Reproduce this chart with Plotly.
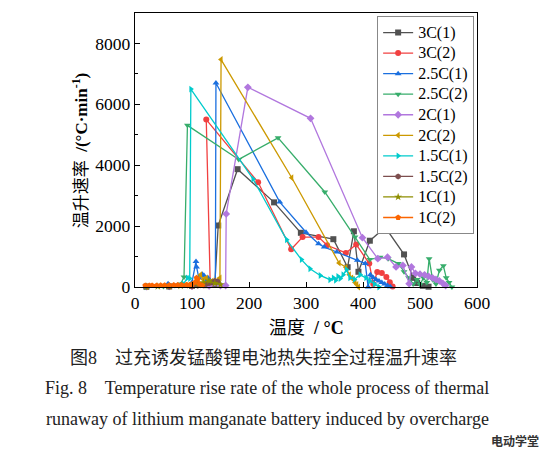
import plotly.graph_objects as go

# ---------------- data ----------------
names = ["3C(1)", "3C(2)", "2.5C(1)", "2.5C(2)", "2C(1)", "2C(2)",
         "1.5C(1)", "1.5C(2)", "1C(1)", "1C(2)"]

x_3c1 = [20, 60, 100, 125, 140, 146, 180, 244, 291, 348, 373, 384, 392, 412, 439, 472, 488, 495, 505, 515]
y_3c1 = [10, 20, 40, 60, 100, 2020, 3870, 2780, 1780, 1570, 650, 1830, 500, 1520, 1960, 1070, 300, 130, 40, 10]

x_3c2 = [20, 60, 100, 120, 132, 125, 216, 274, 294, 322, 337, 370, 388, 411, 418, 425, 433, 441, 447, 452]
y_3c2 = [10, 20, 40, 60, 80, 5500, 3440, 1240, 1640, 1640, 1370, 1120, 1400, 770, 100, 490, 460, 330, 160, 20]

x_25c1 = [20, 45, 58, 70, 90, 100, 107, 108, 112, 118, 121, 125, 128, 133, 141, 142, 254, 300, 322, 332,
          354, 390, 404, 409, 413, 418, 423, 428, 433, 438, 443, 448]
y_25c1 = [10, 30, 110, 40, 60, 150, 840, 660, 300, 420, 380, 200, 300, 150, 150, 6700, 2790, 1800, 1420, 1310,
          1150, 880, 770, 0, 400, 300, 250, 200, 150, 100, 50, 10]

x_25c2 = [20, 50, 70, 80, 86, 92, 182, 251, 333, 386, 412, 430, 444, 462, 472, 480, 488, 495, 500, 506,
          512, 516, 522, 528, 534, 541, 546, 551, 556]
y_25c2 = [10, 20, 50, 100, 330, 5310, 4190, 4900, 3120, 1640, 900, 980, 930, 770, 500, 300, 100, 250, 80, 300,
          150, 930, 250, 100, 550, 700, 300, 150, 0]

x_2c1 = [20, 60, 100, 130, 150, 159, 160, 198, 308, 399, 426, 443, 458, 470, 481, 485, 492, 500, 508, 515,
         522, 528, 534, 540, 545]
y_2c1 = [10, 20, 30, 40, 50, 50, 2400, 6560, 5540, 1620, 930, 980, 660, 710, 110, 660, 450, 420, 400, 350,
         300, 250, 200, 120, 50]

x_2c2 = [20, 60, 90, 100, 110, 115, 120, 125, 130, 135, 140, 147, 149, 151, 275, 358, 370, 376, 380, 383,
         386, 389, 392]
y_2c2 = [10, 30, 60, 100, 200, 400, 250, 300, 150, 200, 200, 250, 300, 7470, 3590, 790, 650, 400, 300, 250,
         150, 80, 0]

x_15c1 = [20, 60, 85, 92, 96, 98, 207, 266, 292, 307, 325, 342, 348, 352, 356, 360, 365, 371, 377, 385,
          395, 405, 412, 420, 428]
y_15c1 = [10, 20, 100, 300, 280, 6500, 3550, 1550, 900, 600, 380, 240, 300, 220, 350, 280, 400, 570, 300, 250,
          400, 300, 200, 100, 0]

x_15c2 = [20, 60, 100, 110, 115, 120, 125, 130, 135, 140, 145]
y_15c2 = [5, 10, 20, 40, 60, 80, 100, 120, 150, 200, 180]

x_1c1 = [20, 40, 60, 80, 100, 110, 120, 130, 140, 150]
y_1c1 = [10, 20, 30, 40, 60, 100, 150, 200, 120, 80]

x_1c2 = [18, 25, 30, 38, 45, 52, 60, 68, 75, 82, 90, 96, 100, 105, 108, 110, 113, 118]
y_1c2 = [50, 50, 50, 52, 55, 57, 60, 62, 65, 68, 70, 75, 80, 150, 300, 250, 100, 50]

xs = [x_3c1, x_3c2, x_25c1, x_25c2, x_2c1, x_2c2, x_15c1, x_15c2, x_1c1, x_1c2]
ys = [y_3c1, y_3c2, y_25c1, y_25c2, y_2c1, y_2c2, y_15c1, y_15c2, y_1c1, y_1c2]

colors = ["#515151", "#F14040", "#1A6FDF", "#37AD6B", "#B177DE", "#CC9900",
          "#00CBCC", "#7D4E4E", "#8E8E00", "#FB6501"]
symbols = ["square", "circle", "triangle-up", "triangle-down", "diamond", "triangle-left",
           "triangle-right", "hexagon", "star", "pentagon"]

SERIF = "Liberation Serif, Times New Roman, Noto Sans CJK SC, serif"

fig = go.Figure()
for n, x, y, c, s in zip(names, xs, ys, colors, symbols):
    fig.add_trace(go.Scatter(
        x=x, y=y, name="<span style='font-size:16px'>%s</span>" % n, mode="lines+markers",
        line=dict(color=c, width=1.3),
        marker=dict(symbol=s, size=6, color=c),
        cliponaxis=False,
    ))

# page body has an 8px default margin, so the figure is 8px smaller
fig.update_layout(
    width=546, height=441,
    margin=dict(l=127, r=77, t=5, b=162),
    paper_bgcolor="white", plot_bgcolor="white",
    font=dict(family=SERIF, size=17, color="black"),
    showlegend=True,
    legend=dict(
        x=0.708, y=0.988, xanchor="left", yanchor="top",
        bgcolor="white", bordercolor="#888888", borderwidth=1,
        font=dict(family=SERIF, size=13.5, color="black"),
        tracegroupgap=0,
    ),
)

fig.update_xaxes(
    range=[0, 600], dtick=100, tick0=0,
    showline=True, linecolor="black", linewidth=1.3, mirror=True,
    ticks="inside", ticklen=5, tickcolor="black", tickwidth=1,
    showgrid=False, zeroline=False,
    tickfont=dict(family=SERIF, size=17.5, color="black"),
)
fig.update_yaxes(
    range=[0, 9000], dtick=2000, tick0=0,
    showline=True, linecolor="black", linewidth=1.3, mirror=True,
    ticks="inside", ticklen=5, tickcolor="black", tickwidth=1,
    minor=dict(dtick=1000, ticks="inside", ticklen=3, tickcolor="black", showgrid=False),
    showgrid=False, zeroline=False,
    tickfont=dict(family=SERIF, size=17.5, color="black"),
)

# axis titles
fig.add_annotation(
    x=-0.16, y=0.5, xref="paper", yref="paper", xanchor="center", yanchor="middle",
    text="温升速率  <b>/(°C·min<sup>-1</sup>)</b>", textangle=-90, showarrow=False,
    font=dict(family=SERIF, size=17, color="black"),
)
fig.add_annotation(
    x=0.5, y=-0.15, xref="paper", yref="paper", xanchor="center", yanchor="middle",
    text="温度  <b>/ °C</b>", showarrow=False,
    font=dict(family=SERIF, size=18, color="black"),
)

# captions
fig.add_annotation(
    x=0.377, y=-0.26, xref="paper", yref="paper", xanchor="center", yanchor="middle",
    text="图8　过充诱发锰酸锂电池热失控全过程温升速率", showarrow=False,
    font=dict(family=SERIF, size=18, color="#222222"),
)
fig.add_annotation(
    x=-0.269, y=-0.37, xref="paper", yref="paper", xanchor="left", yanchor="middle",
    text="Fig. 8    Temperature rise rate of the whole process of thermal", showarrow=False,
    font=dict(family=SERIF, size=18, color="#222222"),
)
fig.add_annotation(
    x=-0.266, y=-0.48, xref="paper", yref="paper", xanchor="left", yanchor="middle",
    text="runaway of lithium manganate battery induced by overcharge", showarrow=False,
    font=dict(family=SERIF, size=18, color="#222222"),
)
fig.add_annotation(
    x=1.11, y=-0.56, xref="paper", yref="paper", xanchor="center", yanchor="middle",
    text="<b>电动学堂</b>", showarrow=False,
    font=dict(family="Noto Sans CJK SC, sans-serif", size=12, color="#333333"),
)

fig.write_html("out.html")
